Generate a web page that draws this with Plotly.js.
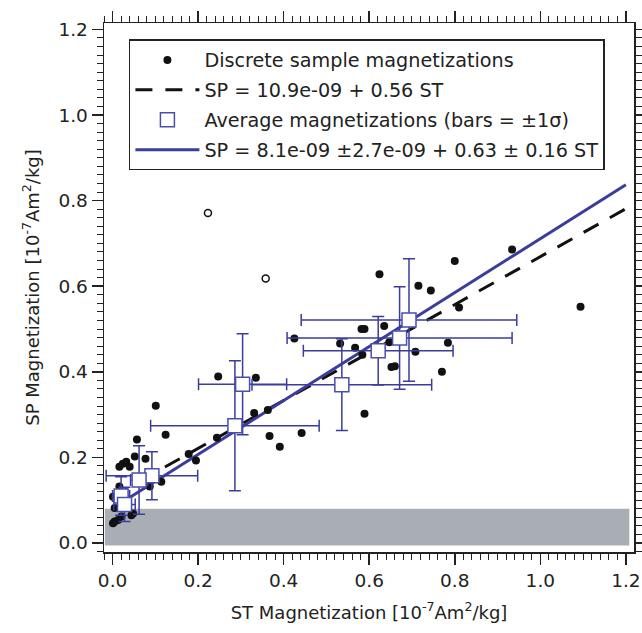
<!DOCTYPE html>
<html>
<head>
<meta charset="utf-8">
<script src="https://cdn.plot.ly/plotly-3.0.1.min.js"></script>
<style>html,body{margin:0;padding:0;background:#fff;}#chart{width:642px;height:633px;}</style>
</head>
<body>
<div id="chart"></div>
<script>
// Discrete sample magnetizations (ST, SP) in 1e-7 Am^2/kg
const sampleST = [0.934,0.800,0.624,0.715,0.744,0.810,1.094,0.582,0.589,0.635,0.532,0.567,0.647,0.784,0.708,0.584,0.652,0.660,0.770,0.589,0.425,0.247,0.335,0.331,0.363,0.244,0.367,0.442,0.391,0.101,0.124,0.057,0.052,0.077,0.024,0.032,0.040,0.016,0.114,0.087,0.001,0.005,0.044,0.048,0.005,0.013,0.001,0.178,0.195,0.021,0.016];
const sampleSP = [0.686,0.659,0.628,0.601,0.590,0.550,0.552,0.500,0.500,0.507,0.466,0.456,0.469,0.468,0.447,0.440,0.411,0.413,0.400,0.302,0.478,0.389,0.386,0.304,0.311,0.246,0.250,0.257,0.225,0.321,0.253,0.242,0.202,0.197,0.185,0.190,0.178,0.178,0.143,0.132,0.108,0.082,0.065,0.069,0.050,0.054,0.046,0.208,0.193,0.062,0.132];
// Outliers (open circles)
const outlierST = [0.223,0.358];
const outlierSP = [0.771,0.618];
// Average magnetizations with +/-1 sigma
const avgST = [0.693,0.671,0.621,0.536,0.304,0.286,0.092,0.062,0.020,0.028];
const avgSP = [0.521,0.479,0.449,0.370,0.371,0.274,0.157,0.147,0.110,0.090];
const avgSTsd = [0.252,0.263,0.175,0.210,0.103,0.197,0.107,0.020,0.020,0.025];
const avgSPsd = [0.143,0.120,0.080,0.107,0.118,0.152,0.056,0.080,0.045,0.040];
// Fit lines (end points)
const fitAllST = [0.0,1.2];
const fitAllSP = [0.109,0.781];
const fitAvgST = [0.0,1.2];
const fitAvgSP = [0.081,0.837];
// Grey band (detection limit region)
const bandST = [-0.018,1.208,1.208,-0.018,-0.018];
const bandSP = [-0.006,-0.006,0.08,0.08,-0.006];
// Axis ticks
const tickVals = [0,0.2,0.4,0.6,0.8,1.0,1.2];
const tickText = ["0.0","0.2","0.4","0.6","0.8","1.0","1.2"];
const legendNames = ["Discrete sample magnetizations","SP = 10.9e-09 + 0.56 ST","Average magnetizations (bars = \u00b11\u03c3)","SP = 8.1e-09 \u00b12.7e-09 + 0.63 \u00b1 0.16 ST"];

const FONT = "'DejaVu Sans', 'Open Sans', sans-serif";
const BLUE = "#3a3d9c";
const BLUE2 = "#4a4fae";

const traces = [
  {x: bandST, y: bandSP, mode: "lines", fill: "toself", fillcolor: "#a9aeb5", line: {width: 0, color: "#a9aeb5"}, showlegend: false, hoverinfo: "skip"},
  {x: fitAllST, y: fitAllSP, mode: "lines", name: legendNames[1], legendrank: 2, legendgroup: "b",
   line: {color: "#111", width: 3, dash: "17px,13px"}},
  {x: fitAvgST, y: fitAvgSP, mode: "lines", name: legendNames[3], legendrank: 4, legendgroup: "d",
   line: {color: BLUE, width: 3}},
  {x: sampleST, y: sampleSP, mode: "markers", name: legendNames[0], legendrank: 1, legendgroup: "a",
   marker: {color: "#111", size: 8}},
  {x: outlierST, y: outlierSP, mode: "markers", showlegend: false,
   marker: {symbol: "circle-open", color: "#111", size: 7, line: {width: 1.5, color: "#111"}}},
  {x: avgST, y: avgSP, mode: "markers", name: legendNames[2], legendrank: 3, legendgroup: "c",
   marker: {symbol: "square", size: 14, color: "#fff", line: {color: BLUE2, width: 1.5}},
   error_x: {type: "data", array: avgSTsd, visible: true, color: BLUE, thickness: 1.5, width: 6},
   error_y: {type: "data", array: avgSPsd, visible: true, color: BLUE, thickness: 1.5, width: 6}}
];

const axisCommon = {
  showgrid: false, zeroline: false, showline: true, linecolor: "#222", linewidth: 1.5,
  mirror: "ticks", ticks: "outside", ticklen: 11, tickwidth: 1.5, tickcolor: "#222",
  tickvals: tickVals, ticktext: tickText,
  tickfont: {family: FONT, size: 18.5, color: "#222"},
  minor: {dtick: 0.02, ticks: "outside", ticklen: 6, tickwidth: 1, tickcolor: "#222"}
};

const layout = {
  width: 642, height: 633, autosize: false,
  margin: {l: 104, r: 8, t: 23, b: 81},
  paper_bgcolor: "#fff", plot_bgcolor: "#fff",
  font: {family: FONT, color: "#222"},
  showlegend: true,
  legend: {x: 0.047, y: 0.969, xanchor: "left", yanchor: "top", bgcolor: "#fff",
    bordercolor: "#222", borderwidth: 1.5, font: {family: FONT, size: 19.2, color: "#222"},
    traceorder: "grouped", tracegroupgap: 2, itemwidth: 64},
  xaxis: Object.assign({}, axisCommon, {range: [-0.020, 1.219],
    title: {text: "ST Magnetization [10<sup>-7</sup>Am<sup>2</sup>/kg]", font: {family: FONT, size: 18, color: "#222"}, standoff: 16}}),
  yaxis: Object.assign({}, axisCommon, {range: [-0.021, 1.215],
    title: {text: "SP Magnetization [10<sup>-7</sup>Am<sup>2</sup>/kg]", font: {family: FONT, size: 18, color: "#222"}, standoff: 14}})
};

Plotly.newPlot("chart", traces, layout, {staticPlot: true, displayModeBar: false});
</script>
</body>
</html>
